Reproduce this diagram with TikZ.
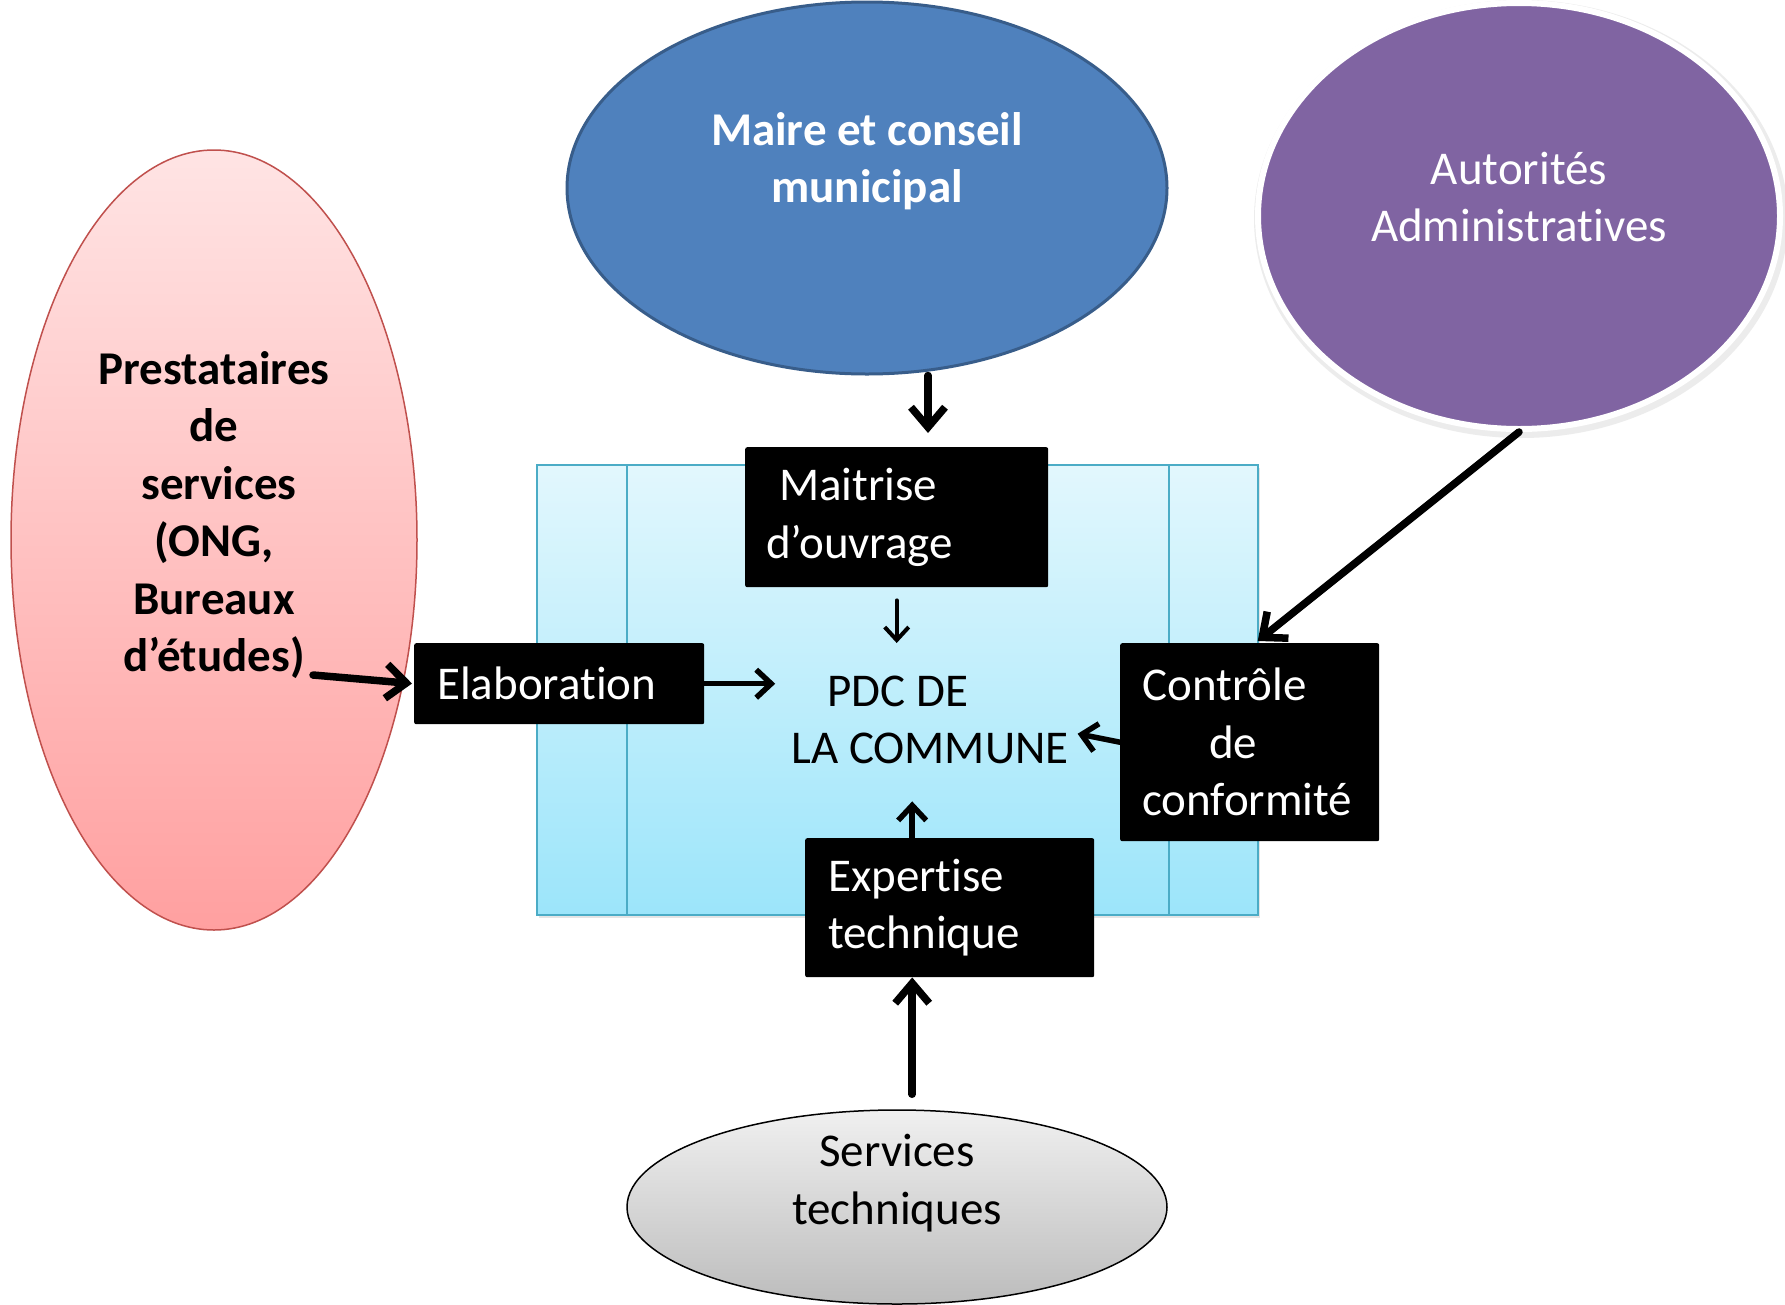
\documentclass[tikz,border=0pt]{standalone}
\usepackage{fontspec}
\setmainfont{Carlito}[Ligatures=NoCommon]
\usetikzlibrary{shapes.geometric,arrows.meta,shadows,calc}
\definecolor{maireblue}{RGB}{79,129,189}
\definecolor{maireedge}{RGB}{56,93,138}
\definecolor{autpurple}{RGB}{128,100,162}
\definecolor{prestop}{RGB}{255,228,228}
\definecolor{presbot}{RGB}{255,160,160}
\definecolor{presedge}{RGB}{192,80,77}
\definecolor{frametop}{RGB}{226,247,253}
\definecolor{framebot}{RGB}{156,229,250}
\definecolor{frameedge}{RGB}{75,172,198}
\definecolor{servtop}{RGB}{240,240,240}
\definecolor{servbot}{RGB}{188,188,188}
\begin{document}
\begin{tikzpicture}[x=1pt,y=-1pt,
  big/.style={font=\fontsize{47}{57.5}\selectfont},
  bigbold/.style={font=\fontsize{47}{57.5}\selectfont\bfseries},
  oval/.style={ellipse, inner sep=0pt},
  blackbox/.style={big, fill=black, text=white, rounded corners=2pt, anchor=north west, inner ysep=0pt, align=left},
  thickarrow/.style={line width=7.5pt, line cap=round, -{Straight Barb[length=20pt,width=34pt,line width=7.5pt]}},
  medarrow/.style={line width=5.5pt, line cap=round, -{Straight Barb[length=15pt,width=28pt,line width=5.5pt]}},
  thinarrow/.style={line width=4pt, line cap=round, -{Straight Barb[length=13pt,width=24pt,line width=4pt]}}]
\useasboundingbox[fill=white] (0,0) rectangle (1785,1304);

% ovals
\node[oval, minimum width=406pt, minimum height=780pt, top color=prestop, bottom color=presbot, draw=presedge, line width=1.5pt] (presta) at (214,540) {};
\node[oval, minimum width=600pt, minimum height=372pt, fill=maireblue, draw=maireedge, line width=3pt] (maire) at (867,188) {};
\node[oval, minimum width=534pt, minimum height=438pt, fill=black!12, opacity=0.6] (autorshadow) at (1521,219) {};
\node[oval, minimum width=522pt, minimum height=426pt, fill=autpurple, draw=white, line width=6pt] (autor) at (1519,216) {};
\node[oval, minimum width=540pt, minimum height=194pt, top color=servtop, bottom color=servbot, draw=black, line width=1.5pt] (serv) at (897,1207) {};

% central frame
\node[anchor=north west, minimum width=721pt, minimum height=450pt, inner sep=0pt, top color=frametop, bottom color=framebot, draw=frameedge, line width=2pt, drop shadow={shadow xshift=2pt, shadow yshift=-3pt, opacity=0.2}] (frame) at (536,464) {};
\draw[frameedge, line width=1.5pt] ([xshift=91pt]frame.north west) -- ([xshift=91pt]frame.south west);
\draw[frameedge, line width=1.5pt] ([xshift=-90pt]frame.north east) -- ([xshift=-90pt]frame.south east);

% texts in ovals
\node[bigbold, text=white, align=center] (mairet) at (867,161) {Maire et conseil\\municipal};
\node[big, text=white, align=center] (autort) at (1519,197) {Autorités\\Administratives};
\node[bigbold, text=black, align=center] (prestat) at (214,515) {Prestataires\\de\\\hspace*{10pt}services\\(ONG,\\Bureaux\\d’études)};
\node[big, text=black, align=center] (servt) at (897,1183) {Services\\techniques};

% black boxes
\node[blackbox, minimum width=303pt, minimum height=140pt, inner xsep=21pt, text width=261pt] (maitrise) at (745,447) {\hspace*{13pt}Maitrise\\d’ouvrage};
\node[blackbox, minimum width=290pt, minimum height=81pt, inner xsep=23pt, text width=244pt] (elab) at (414,643) {Elaboration};
\node[blackbox, minimum width=259pt, minimum height=198pt, inner xsep=22pt, text width=215pt] (ctrl) at (1120,643) {Contrôle\\\hspace*{67pt}de\\conformité};
\node[blackbox, minimum width=289pt, minimum height=139pt, inner xsep=23pt, text width=243pt] (expert) at (805,838) {Expertise\\technique};

% centre text
\node[big, align=left, inner sep=0pt] (pdc) at (930,720) {\hspace*{36pt}PDC DE\\LA COMMUNE};

% connectors
\coordinate (pstart) at (313,675);
\draw[thickarrow] ([xshift=61pt]maire.south) -- ([xshift=61pt,yshift=14pt]maire.south |- maitrise.north);
\draw[thinarrow, shorten <=13pt] (maitrise.south) -- (maitrise.south |- elab.north);
\draw[medarrow] (elab.east) -- ([xshift=-16pt]pdc.west |- elab.east);
\draw[thickarrow, shorten >=2pt] (pstart) -- (elab.west);
\draw[thickarrow] (autor.south) -- ([xshift=8pt,yshift=2pt]ctrl.north);
\draw[medarrow, shorten >=9pt] (ctrl.west) -- ([yshift=-12pt]pdc.east);
\draw[medarrow, shorten >=37pt] ([xshift=-37.5pt]expert.north) -- ([xshift=-37.5pt]expert.north |- pdc.south);
\draw[thickarrow, shorten <=15pt] ([xshift=-37.5pt]expert.south |- serv.north) -- ([xshift=-37.5pt]expert.south);
\end{tikzpicture}
\end{document}
